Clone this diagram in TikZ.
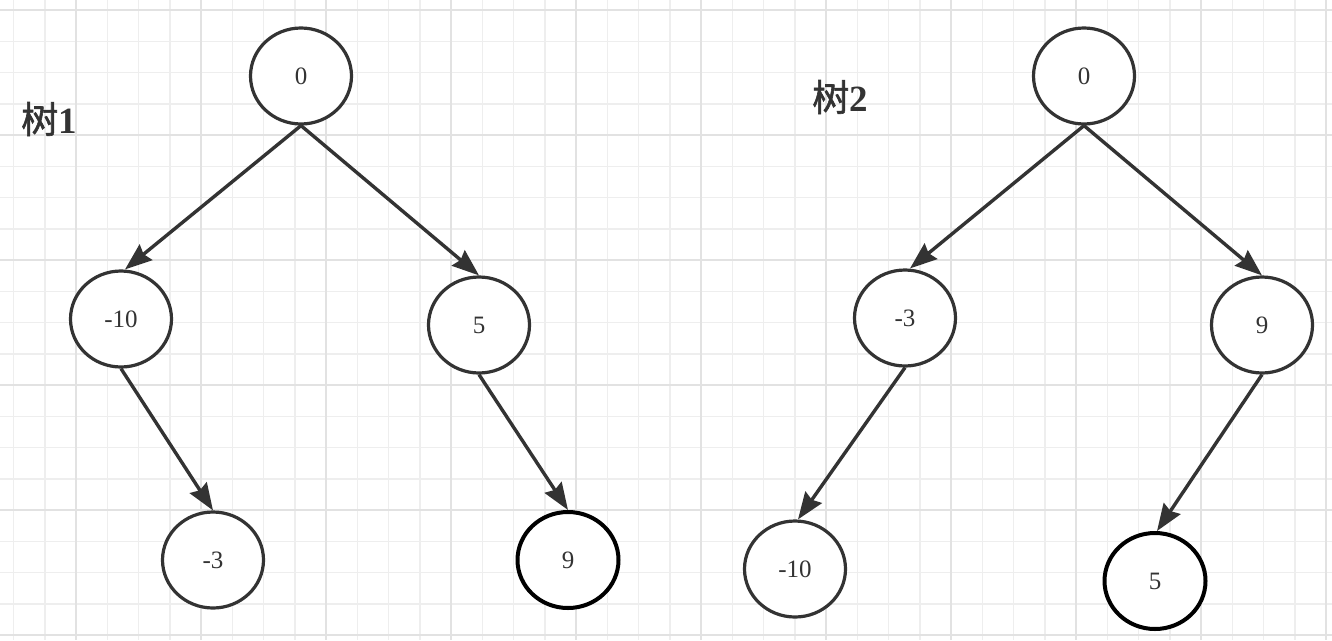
\documentclass[tikz,border=0pt]{standalone}
\usepackage{fontspec}
\setmainfont{Liberation Serif}
\newfontfamily\cjk[FakeBold=1.5]{Noto Sans CJK SC}
\usetikzlibrary{arrows.meta,shapes.geometric}
\definecolor{minorgrid}{HTML}{EEEEEE}
\definecolor{majorgrid}{HTML}{E2E2E2}
\definecolor{ink}{HTML}{333333}
\tikzset{
  tnode/.style={ellipse, draw=ink, line width=3.2pt, fill=white, minimum width=101pt, minimum height=96pt, inner sep=0pt, text=ink, font=\fontsize{25}{27}\selectfont},
  tnodeb/.style={tnode, draw=black, line width=4pt},
  edge/.style={draw=ink, line width=3.4pt, -{Stealth[length=27pt,width=20pt,inset=3pt]}},
  title/.style={text=ink, font=\fontsize{37}{40}\selectfont, inner sep=0pt},
}
\begin{document}
\begin{tikzpicture}[x=1pt,y=-1pt]
\useasboundingbox (0,0) rectangle (1332,640);
\fill[white] (0,0) rectangle (1332,640);
% grid
\foreach \i in {-2,...,40} {
  \pgfmathsetmacro{\gx}{76+31.25*\i}
  \draw[minorgrid, line width=1.5pt] (\gx,0) -- (\gx,640);
}
\foreach \i in {0,...,20} {
  \pgfmathsetmacro{\gy}{10+31.25*\i}
  \draw[minorgrid, line width=1.5pt] (0,\gy) -- (1332,\gy);
}
\foreach \i in {0,...,10} {
  \pgfmathsetmacro{\gx}{76+125*\i}
  \draw[majorgrid, line width=1.8pt] (\gx,0) -- (\gx,640);
}
\foreach \i in {0,...,5} {
  \pgfmathsetmacro{\gy}{10+125*\i}
  \draw[majorgrid, line width=1.8pt] (0,\gy) -- (1332,\gy);
}
% titles
\node[title] (t1) at (49,119) {{\cjk 树}\textbf{1}};
\node[title] (t2) at (840,97) {{\cjk 树}\textbf{2}};
% tree 1
\node[tnode] (a0) at (301,76) {0};
\node[tnode] (a1) at (121,319) {-10};
\node[tnode] (a2) at (479,325) {5};
\node[tnode] (a3) at (213,560) {-3};
\node[tnodeb] (a4) at (568,560) {9};
% tree 2
\node[tnode] (b0) at (1084,76) {0};
\node[tnode] (b1) at (905,318) {-3};
\node[tnode] (b2) at (1262,325) {9};
\node[tnode] (b3) at (795,569) {-10};
\node[tnodeb] (b4) at (1155,581) {5};
% edges
\draw[edge] (a0.south) -- ([xshift=4pt]a1.north);
\draw[edge] (a0.south) -- (a2.north);
\draw[edge] (a1.south) -- (a3.north);
\draw[edge] (a2.south) -- (a4.north);
\draw[edge] (b0.south) -- ([xshift=5pt]b1.north);
\draw[edge] (b0.south) -- (b2.north);
\draw[edge] (b1.south) -- ([xshift=3pt]b3.north);
\draw[edge] (b2.south) -- ([xshift=2pt]b4.north);
\end{tikzpicture}
\end{document}
